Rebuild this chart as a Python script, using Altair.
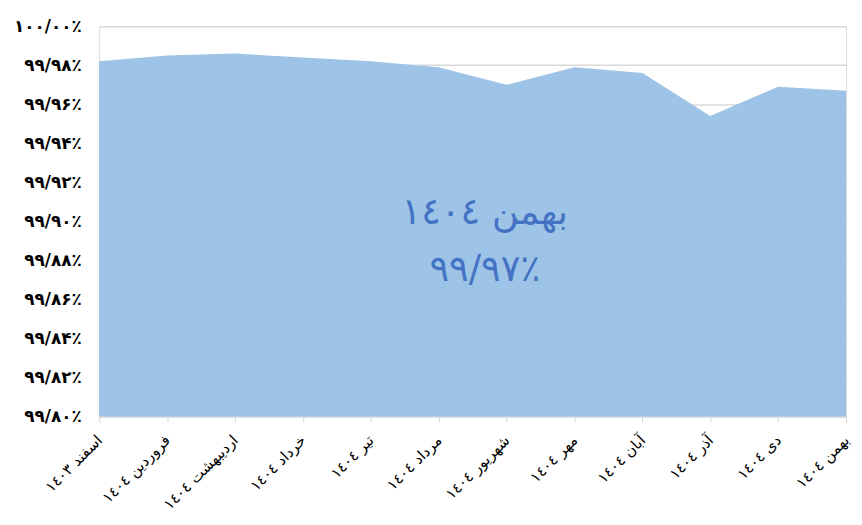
import altair as alt
import pandas as pd

months = [
    "اسفند ١٤٠٣", "فروردین ١٤٠٤", "اردیبهشت ١٤٠٤", "خرداد ١٤٠٤",
    "تیر ١٤٠٤", "مرداد ١٤٠٤", "شهریور ١٤٠٤", "مهر ١٤٠٤",
    "آبان ١٤٠٤", "آذر ١٤٠٤", "دی ١٤٠٤", "بهمن ١٤٠٤",
]
values = [99.982, 99.985, 99.986, 99.984, 99.982, 99.979,
          99.970, 99.979, 99.976, 99.954, 99.969, 99.967]

y_tick_values = [99.80, 99.82, 99.84, 99.86, 99.88, 99.90,
                 99.92, 99.94, 99.96, 99.98, 100.00]
y_tick_labels = ["۹۹/۸۰٪", "۹۹/۸۲٪", "۹۹/۸۴٪", "۹۹/۸۶٪", "۹۹/۸۸٪", "۹۹/۹۰٪",
                 "۹۹/۹۲٪", "۹۹/۹۴٪", "۹۹/۹۶٪", "۹۹/۹۸٪", "۱۰۰/۰۰٪"]

note_lines = ["بهمن ١٤٠٤", "۹۹/۹۷٪"]
note_y = [99.9045, 99.875]
note_x = ["شهریور ١٤٠٤", "شهریور ١٤٠٤"]

df = pd.DataFrame({"month": months, "value": values})
notes = pd.DataFrame({"text": note_lines, "y": note_y, "month": note_x})

label_map = "{" + ",".join(
    f"'{v:.2f}':'{l}'" for v, l in zip(y_tick_values, y_tick_labels)
) + "}"

FONT = "DejaVu Sans"

x_enc = alt.X(
    "month:N", sort=months, title=None,
    scale=alt.Scale(padding=0),
    axis=alt.Axis(
        labelAngle=-45, labelFont=FONT, labelFontSize=15, labelColor="#000000",
        domainColor="#D9D9D9", tickColor="#D9D9D9", tickSize=6,
        labelPadding=15, grid=False, labelAlign="right", labelBaseline="middle",
        labelOverlap=False,
    ),
)
y_scale = alt.Scale(domain=[99.8, 100.0], nice=False, zero=False)

area = alt.Chart(df).mark_area(color="#9DC3E6", opacity=1).encode(
    x=x_enc,
    y=alt.Y(
        "value:Q", scale=y_scale, title=None,
        axis=alt.Axis(
            values=y_tick_values, tickCount=20,
            labelExpr=f"{label_map}[format(datum.value, '.2f')]",
            labelFont=FONT, labelFontSize=17, labelFontWeight="bold",
            labelColor="#000000", domain=False, ticks=False, labelPadding=18,
            grid=True, gridColor="#D9D9D9", gridWidth=1.5, labelOverlap=False,
        ),
    ),
    y2=alt.datum(99.8),
)

text = alt.Chart(notes).mark_text(
    font=FONT, fontSize=37, color="#4472C4", dx=-22, align="center", baseline="middle"
).encode(
    x=alt.X("month:N", sort=months),
    y=alt.Y("y:Q", scale=y_scale),
    text="text:N",
)

chart = alt.layer(area, text).properties(
    width=754, height=394,
    padding={"left": 92, "top": 16, "right": 8, "bottom": 99},
    autosize=alt.AutoSizeParams(type="none"),
).configure_view(stroke=None).configure(background="white")

chart.save("out.html", embed_options={"renderer": "svg", "actions": False})
